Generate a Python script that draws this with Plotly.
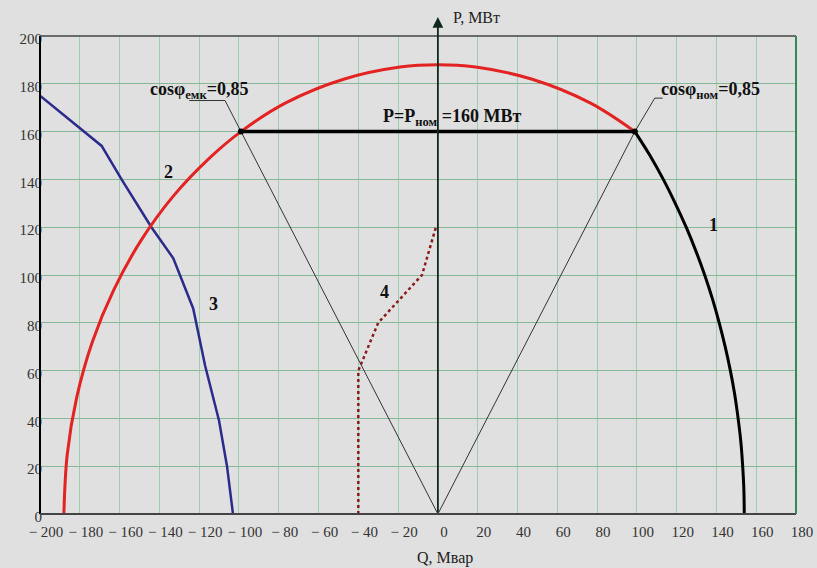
import plotly.graph_objects as go

# ---- data (Q, Мвар ; P, МВт) ----
# curve 2: stator-current limit (red)
q_curve2 = [-188, -186.3, -181.5, -173.7, -162.8, -148.8, -133, -114.7, -99, -76.5, -47, -19, 0,
            19, 47, 76.5, 99]
p_curve2 = [0, 25, 49, 72, 94, 115, 133, 149, 160, 172, 182, 187, 188,
            187, 182, 172, 160]

# curve 1: rotor-current limit (black)
q_curve1 = [99, 106.6, 113.3, 119.3, 124.8, 129.7, 134.1, 138, 141.4, 144.4, 147, 149.2, 150.9,
            152.3, 153.2, 153.8, 154]
p_curve1 = [160, 150, 140, 130, 120, 110, 100, 90, 80, 70, 60, 50, 40,
            30, 20, 10, 0]

# curve 3 (blue)
q_curve3 = [-200, -169, -159, -144, -133, -123, -117, -110, -106, -103]
p_curve3 = [175, 154, 140, 120, 107, 86, 62, 39, 20, 0]

# curve 4 (dotted)
q_curve4 = [-40, -40, -30, -8, -1]
p_curve4 = [0, 60, 80, 100, 120]

# cos phi = 0.85 rays (with label leaders) and P = Pnom line
q_ray_left = [0, -99, -107, -125]
p_ray_left = [0, 160, 173, 173]
q_ray_right = [0, 99, 109, 113]
p_ray_right = [0, 160, 174, 174]
q_pnom = [-99, 99]
p_pnom = [160, 160]

x_ticks = list(range(-200, 181, 20))
x_ticktext = [("− %d" % -v) if v < 0 else str(v) for v in x_ticks]
y_ticks = list(range(0, 201, 20))
y_ticktext = [str(v) for v in y_ticks]

SERIF = "Liberation Serif"
BG = "#e0e0e0"

fig = go.Figure()

fig.add_trace(go.Scatter(x=q_ray_left, y=p_ray_left, mode="lines",
                         line=dict(color="#333333", width=1), hoverinfo="skip"))
fig.add_trace(go.Scatter(x=q_ray_right, y=p_ray_right, mode="lines",
                         line=dict(color="#333333", width=1), hoverinfo="skip"))
fig.add_trace(go.Scatter(x=q_curve4, y=p_curve4, mode="lines",
                         line=dict(color="#8b1a1a", width=2.5, dash="dot")))
fig.add_trace(go.Scatter(x=q_curve3, y=p_curve3, mode="lines",
                         line=dict(color="#2b2b8c", width=2.5)))
fig.add_trace(go.Scatter(x=q_curve2, y=p_curve2, mode="lines", line_shape="spline",
                         line=dict(color="#e32222", width=3)))
fig.add_trace(go.Scatter(x=q_curve1, y=p_curve1, mode="lines", line_shape="spline",
                         line=dict(color="#000000", width=3)))
fig.add_trace(go.Scatter(x=q_pnom, y=p_pnom, mode="lines+markers",
                         line=dict(color="#000000", width=3.5),
                         marker=dict(color="#000000", size=6)))

# frame around the plotting area
fig.add_shape(type="line", xref="paper", yref="paper", x0=0, x1=0, y0=0, y1=1,
              line=dict(color="#000000", width=2))
fig.add_shape(type="line", xref="paper", yref="paper", x0=0, x1=1, y0=0, y1=0,
              line=dict(color="#444444", width=2))
fig.add_shape(type="line", xref="paper", yref="paper", x0=0, x1=1, y0=1, y1=1,
              line=dict(color="#444444", width=1.5))
fig.add_shape(type="line", xref="paper", yref="paper", x0=1, x1=1, y0=0, y1=1,
              line=dict(color="#2e8b57", width=2))

# vertical P axis at Q = 0 with arrow
fig.add_annotation(x=0, y=208, ax=0, ay=0, xref="x", yref="y", axref="x", ayref="y",
                   showarrow=True, arrowhead=2, arrowsize=1.2, arrowwidth=1.8,
                   arrowcolor="#10281a", text="")

def label(x, y, text, size=18, xanchor="center", bold=True):
    fig.add_annotation(x=x, y=y, xref="x", yref="y", text=("<b>%s</b>" % text) if bold else text,
                       showarrow=False, xanchor=xanchor,
                       font=dict(family=SERIF, size=size, color="#111111"))

label(138.5, 121, "1")
label(-135.5, 143, "2")
label(-113, 88, "3")
label(-27, 93, "4")
label(7, 166, "P=P<sub>ном</sub> =160 МВт", size=18)
label(-120, 177, "cosφ<sub>емк</sub>=0,85", size=18)
label(111, 177, "cosφ<sub>ном</sub>=0,85", size=18, xanchor="left")

# axis titles
fig.add_annotation(x=0, y=1, xref="x", yref="paper", text="P, МВт", showarrow=False,
                   xanchor="left", yanchor="bottom", xshift=13, yshift=8,
                   font=dict(family=SERIF, size=16, color="#222222"))
fig.add_annotation(x=0, y=0, xref="x", yref="paper", text="Q, Мвар", showarrow=False,
                   xanchor="center", yanchor="top", yshift=-33, xshift=7,
                   font=dict(family=SERIF, size=16, color="#222222"))

fig.update_xaxes(range=[-200, 180], tickvals=x_ticks, ticktext=x_ticktext,
                 showgrid=True, gridcolor="#9ccfae", gridwidth=1,
                 zeroline=False, showline=False, ticks="", automargin=False,
                 ticklabelshift=6, ticklabelstandoff=7,
                 tickfont=dict(family=SERIF, size=15, color="#333333"))
fig.update_yaxes(range=[0, 200], tickvals=y_ticks, ticktext=y_ticktext,
                 showgrid=True, gridcolor="#86b898", gridwidth=1.3,
                 zeroline=False, showline=False, ticks="", automargin=False,
                 ticklabelshift=3, ticklabelstandoff=-3,
                 tickfont=dict(family=SERIF, size=15, color="#333333"))

fig.update_layout(width=817, height=568, showlegend=False,
                  margin=dict(l=40, r=21, t=36, b=54),
                  paper_bgcolor=BG, plot_bgcolor=BG)

fig.write_html("out.html", config={"displayModeBar": False},
               post_script="document.body.style.margin='0';document.body.style.overflow='hidden';"
                           "document.body.style.background='#e0e0e0';")
